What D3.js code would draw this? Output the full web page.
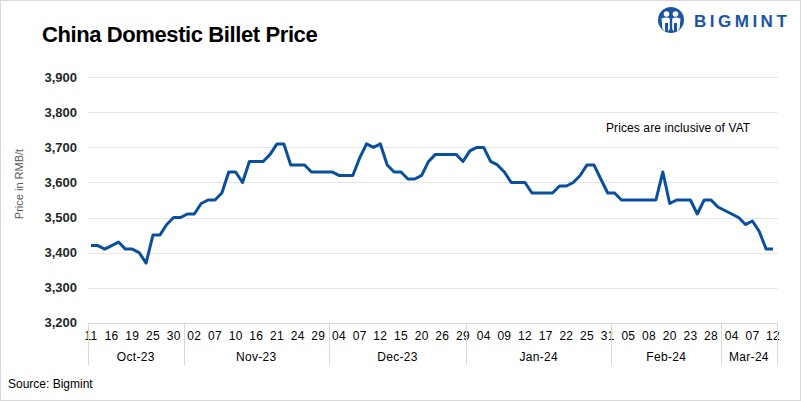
<!DOCTYPE html>
<html>
<head>
<meta charset="utf-8">
<script src="https://cdn.jsdelivr.net/npm/d3@7/dist/d3.min.js"></script>
<style>
  html, body { margin: 0; padding: 0; background: #fff; }
  svg { display: block; font-family: "Liberation Sans", Arial, sans-serif; }
</style>
</head>
<body>
<svg id="chart" width="801" height="401"></svg>
<script>
// ---- Data ----
const dates = [
  "2023-10-11","2023-10-12","2023-10-13","2023-10-16","2023-10-17","2023-10-18","2023-10-19","2023-10-20","2023-10-23","2023-10-25",
  "2023-10-26","2023-10-27","2023-10-30","2023-10-31","2023-11-01","2023-11-02","2023-11-03","2023-11-06","2023-11-07","2023-11-08",
  "2023-11-09","2023-11-10","2023-11-13","2023-11-15","2023-11-16","2023-11-17","2023-11-20","2023-11-21","2023-11-22","2023-11-23",
  "2023-11-24","2023-11-27","2023-11-28","2023-11-29","2023-11-30","2023-12-01","2023-12-04","2023-12-05","2023-12-06","2023-12-07",
  "2023-12-08","2023-12-11","2023-12-12","2023-12-13","2023-12-14","2023-12-15","2023-12-18","2023-12-19","2023-12-20","2023-12-21",
  "2023-12-22","2023-12-26","2023-12-27","2023-12-28","2023-12-29","2024-01-02","2024-01-03","2024-01-04","2024-01-05","2024-01-08",
  "2024-01-09","2024-01-10","2024-01-11","2024-01-12","2024-01-15","2024-01-16","2024-01-17","2024-01-18","2024-01-19","2024-01-22",
  "2024-01-23","2024-01-24","2024-01-25","2024-01-26","2024-01-29","2024-01-31","2024-02-01","2024-02-02","2024-02-05","2024-02-06",
  "2024-02-07","2024-02-08","2024-02-18","2024-02-19","2024-02-20","2024-02-21","2024-02-22","2024-02-23","2024-02-26","2024-02-27",
  "2024-02-28","2024-02-29","2024-03-01","2024-03-04","2024-03-05","2024-03-06","2024-03-07","2024-03-08","2024-03-11","2024-03-12"
];
const prices = [
  3420,3420,3410,3420,3430,3410,3410,3400,3370,3450,
  3450,3480,3500,3500,3510,3510,3540,3550,3550,3570,
  3630,3630,3600,3660,3660,3660,3680,3710,3710,3650,
  3650,3650,3630,3630,3630,3630,3620,3620,3620,3670,
  3710,3700,3710,3650,3630,3630,3610,3610,3620,3660,
  3680,3680,3680,3680,3660,3690,3700,3700,3660,3650,
  3630,3600,3600,3600,3570,3570,3570,3570,3590,3590,
  3600,3620,3650,3650,3610,3570,3570,3550,3550,3550,
  3550,3550,3550,3630,3540,3550,3550,3550,3510,3550,
  3550,3530,3520,3510,3500,3480,3490,3460,3410,3410
];
const yTicks = [3200,3300,3400,3500,3600,3700,3800,3900];
const labelEvery = 3;
const title = "China Domestic Billet Price";
const yTitle = "Price in RMB/t";
const note = "Prices are inclusive of VAT";
const source = "Source: Bigmint";

// ---- Layout ----
const svg = d3.select("#chart");
const W = 801, H = 401;
const pL = 87.5, pR = 776.5, pT = 77.3, pB = 322.7;

const parse = d3.timeParse("%Y-%m-%d");
const parsed = dates.map(parse);
const data = dates.map((d, i) => ({ key: d, date: parsed[i], value: prices[i], i }));

const x = d3.scaleBand().domain(dates).range([pL, pR]).paddingInner(0).paddingOuter(0);
const y = d3.scaleLinear().domain([3200, 3900]).range([pB, pT]);
const cx = d => x(d) + x.bandwidth() / 2;

// frame
svg.append("rect").attr("x", 0.5).attr("y", 0.5).attr("width", W - 1).attr("height", H - 1)
  .attr("fill", "#fff").attr("stroke", "#d9d9d9");

// title
svg.append("text").attr("x", 42).attr("y", 42).attr("font-size", 22).attr("font-weight", "bold")
  .attr("fill", "#000").attr("letter-spacing", -0.4).text(title);

// gridlines
svg.append("g").selectAll("line").data(yTicks.filter(t => t > 3200)).join("line")
  .attr("x1", pL).attr("x2", pR + 1.5)
  .attr("y1", d => Math.round(y(d)) + 0.5).attr("y2", d => Math.round(y(d)) + 0.5)
  .attr("stroke", "#e6e6e6").attr("stroke-width", 1);

// y axis labels
const yAxis = d3.axisLeft(y).tickValues(yTicks).tickSize(0).tickPadding(0).tickFormat(d3.format(","));
const yg = svg.append("g").attr("transform", `translate(77,0)`).call(yAxis);
yg.select(".domain").remove();
yg.selectAll("text").attr("font-size", 13).attr("font-weight", "bold").attr("fill", "#262626")
  .attr("font-family", "Liberation Sans, Arial, sans-serif");

// y title
svg.append("text").attr("transform", `translate(23,184) rotate(-90)`).attr("text-anchor", "middle")
  .attr("font-size", 11).attr("fill", "#595959").text(yTitle);

// x axis baseline
svg.append("line").attr("x1", pL).attr("x2", pR + 1.5).attr("y1", Math.round(pB) + 0.5).attr("y2", Math.round(pB) + 0.5)
  .attr("stroke", "#d9d9d9");

// day labels
const xAxis = d3.axisBottom(x)
  .tickValues(dates.filter((d, i) => i % labelEvery === 0))
  .tickSize(0).tickPadding(0)
  .tickFormat(d => d3.timeFormat("%d")(parse(d)));
const xg = svg.append("g").attr("transform", `translate(0,${pB})`).call(xAxis);
xg.select(".domain").remove();
xg.selectAll("text").attr("dy", null).attr("y", 17).attr("font-size", 12).attr("fill", "#000")
  .attr("letter-spacing", 0.3).attr("font-family", "Liberation Sans, Arial, sans-serif");

// month groups
const monthFmt = d3.timeFormat("%b-%y");
const groups = d3.groups(data, d => monthFmt(d.date)).map(([m, arr]) => ({
  m, x0: x(arr[0].key), x1: x(arr[arr.length - 1].key) + x.bandwidth()
}));
const sepX = [pL, ...groups.map(g => g.x1)];
svg.append("g").selectAll("line").data(sepX).join("line")
  .attr("x1", d => Math.round(d) + 0.5).attr("x2", d => Math.round(d) + 0.5)
  .attr("y1", pB).attr("y2", 365).attr("stroke", "#d9d9d9");
svg.append("g").selectAll("text").data(groups).join("text")
  .attr("x", g => (g.x0 + g.x1) / 2).attr("y", 361).attr("text-anchor", "middle")
  .attr("font-size", 12).attr("fill", "#000").attr("letter-spacing", 0.3).text(g => g.m);

// line
const line = d3.line().x(d => cx(d.key)).y(d => y(d.value));
svg.append("path").datum(data).attr("d", line).attr("fill", "none")
  .attr("stroke", "#0a4f9e").attr("stroke-width", 3).attr("stroke-linejoin", "round");

// note
svg.append("text").attr("x", 606).attr("y", 132).attr("font-size", 12).attr("fill", "#000")
  .attr("letter-spacing", 0.1).text(note);

// source
svg.append("text").attr("x", 8).attr("y", 388).attr("font-size", 12).attr("fill", "#000").text(source);

// logo
const logo = svg.append("g").attr("transform", "translate(671,20)");
logo.append("circle").attr("r", 13).attr("fill", "#1a55a5");
logo.append("circle").attr("cx", -4.5).attr("cy", -6).attr("r", 2.8).attr("fill", "#fff");
logo.append("circle").attr("cx", 4.5).attr("cy", -6).attr("r", 2.8).attr("fill", "#fff");
logo.append("path").attr("d", "M-9.5,-1.5 Q-4.5,-3.5 -1.2,-1.5 L-1.2,9 L-3,11.5 L-3,3 L-6,3 L-6,11.5 L-8.5,9 Z").attr("fill", "#fff");
logo.append("path").attr("d", "M9.5,-1.5 Q4.5,-3.5 1.2,-1.5 L1.2,9 L3,11.5 L3,3 L6,3 L6,11.5 L8.5,9 Z").attr("fill", "#fff");
svg.append("text").attr("x", 694).attr("y", 27).attr("font-size", 17).attr("font-weight", "bold")
  .attr("fill", "#1a55a5").attr("letter-spacing", 3.5).text("BIGMINT");
</script>
</body>
</html>
